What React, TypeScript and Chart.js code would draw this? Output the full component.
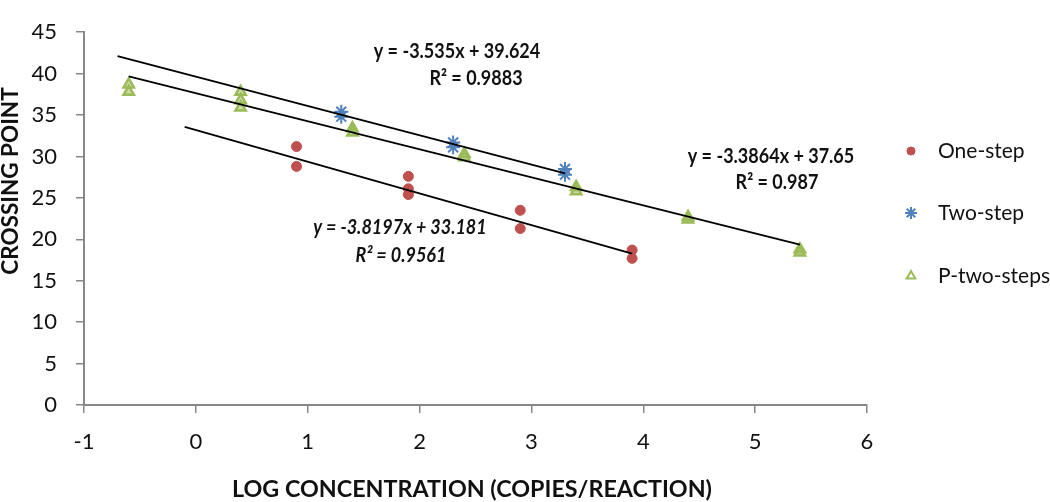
import React, { useEffect, useRef } from "react";
import { Chart, registerables } from "chart.js";
import { drawPoint } from "chart.js/helpers";

Chart.register(...registerables);

// ---- data ----
const oneStepX = [0.9, 0.9, 1.9, 1.9, 1.9, 2.9, 2.9, 3.9, 3.9];
const oneStepY = [31.2, 28.8, 27.6, 26.1, 25.4, 23.5, 21.3, 18.7, 17.7];

const twoStepX = [1.3, 1.3, 2.3, 2.3, 3.3, 3.3];
const twoStepY = [35.4, 34.8, 31.7, 31.1, 28.5, 27.8];

const pTwoX = [-0.6, -0.6, 0.4, 0.4, 0.4, 1.4, 1.4, 2.4, 2.4, 3.4, 3.4, 4.4, 4.4, 5.4, 5.4];
const pTwoY = [38.7, 37.8, 37.8, 36.8, 35.9, 33.4, 32.9, 30.3, 29.9, 26.3, 25.8, 22.7, 22.4, 18.8, 18.4];

const seriesNames = ["One-step", "Two-step", "P-two-steps"];

// trendlines (from the equations shown on the chart)
const trendSlopes = [-3.8197, -3.535, -3.3864];
const trendIntercepts = [33.181, 39.624, 37.65];
const trendStartX = [-0.1, -0.7, -0.6];
const trendEndX = [3.9, 3.3, 5.4];
const equationLabels = ["y = -3.8197x + 33.181", "y = -3.535x + 39.624", "y = -3.3864x + 37.65"];
const r2Labels = ["R² = 0.9561", "R² = 0.9883", "R² = 0.987"];

const xTickValues = [-1, 0, 1, 2, 3, 4, 5, 6];
const yTickValues = [0, 5, 10, 15, 20, 25, 30, 35, 40, 45];

const xTitle = "LOG CONCENTRATION (COPIES/REACTION)";
const yTitle = "CROSSING POINT";

const RED = "#C0504D";
const BLUE = "#4F81BD";
const GREEN = "#9BBB59";
const FONT = "Lato, 'Open Sans', sans-serif";

const toPoints = (xs: number[], ys: number[]) => xs.map((x, i) => ({ x, y: ys[i] }));
const trendPoints = (i: number) => [
  { x: trendStartX[i], y: trendSlopes[i] * trendStartX[i] + trendIntercepts[i] },
  { x: trendEndX[i], y: trendSlopes[i] * trendEndX[i] + trendIntercepts[i] },
];

const drawScaledText = (ctx: CanvasRenderingContext2D, text: string, x: number, y: number, sx: number) => {
  ctx.save();
  ctx.translate(x, y);
  ctx.scale(sx, 1);
  ctx.fillText(text, 0, 0);
  ctx.restore();
};

const overlayPlugin = {
  id: "overlay",
  afterDraw(chart: any) {
    const ctx: CanvasRenderingContext2D = chart.ctx;
    ctx.save();
    ctx.fillStyle = "#111";
    ctx.textAlign = "center";
    ctx.textBaseline = "middle";

    // equations
    const eqPos = [
      { x1: 400, y1: 228, x2: 401, y2: 256, italic: true },
      { x1: 457, y1: 52, x2: 476, y2: 79, italic: false },
      { x1: 771, y1: 157, x2: 777, y2: 183, italic: false },
    ];
    eqPos.forEach((p, i) => {
      ctx.font = `${p.italic ? "italic " : ""}bold 20px ${FONT}`;
      drawScaledText(ctx, equationLabels[i], p.x1, p.y1, 0.9);
      drawScaledText(ctx, r2Labels[i], p.x2, p.y2, 0.9);
    });

    // axis titles
    ctx.font = `bold 23.3px ${FONT}`;
    ctx.fillText(xTitle, 472, 489);
    ctx.save();
    ctx.translate(11, 181);
    ctx.rotate(-Math.PI / 2);
    ctx.font = `bold 22.5px ${FONT}`;
    ctx.fillText(yTitle, 0, 0);
    ctx.restore();

    // legend
    const legendY = [151, 213, 276];
    const styles = [
      { pointStyle: "circle", radius: 4, borderWidth: 1, fill: RED, stroke: RED },
      { pointStyle: "star", radius: 6, borderWidth: 2, fill: BLUE, stroke: BLUE },
      { pointStyle: "triangle", radius: 5, borderWidth: 2, fill: "#ffffff", stroke: GREEN },
    ];
    ctx.textAlign = "left";
    ctx.font = `21px ${FONT}`;
    seriesNames.forEach((name, i) => {
      const s = styles[i];
      ctx.fillStyle = s.fill;
      ctx.strokeStyle = s.stroke;
      ctx.lineWidth = s.borderWidth;
      drawPoint(ctx, { pointStyle: s.pointStyle as any, radius: s.radius, borderWidth: s.borderWidth, rotation: 0 }, 911, legendY[i]);
      ctx.fillStyle = "#111";
      ctx.fillText(name, 938, legendY[i]);
    });
    ctx.restore();
  },
};

export default function App() {
  const ref = useRef<HTMLCanvasElement | null>(null);

  useEffect(() => {
    if (!ref.current) return;
    const lineDs = (i: number) => ({
      type: "line" as const,
      label: "trend" + i,
      data: trendPoints(i),
      borderColor: "#000",
      borderWidth: 1.8,
      pointRadius: 0,
      fill: false,
      showLine: true,
    });
    const chart = new Chart(ref.current, {
      type: "scatter",
      data: {
        datasets: [
          lineDs(0),
          lineDs(1),
          lineDs(2),
          {
            label: seriesNames[0],
            data: toPoints(oneStepX, oneStepY),
            pointStyle: "circle",
            pointRadius: 5,
            backgroundColor: RED,
            borderColor: RED,
            borderWidth: 1,
          },
          {
            label: seriesNames[1],
            data: toPoints(twoStepX, twoStepY),
            pointStyle: "star",
            pointRadius: 7,
            backgroundColor: BLUE,
            borderColor: BLUE,
            borderWidth: 2,
          },
          {
            label: seriesNames[2],
            data: toPoints(pTwoX, pTwoY),
            pointStyle: "triangle",
            pointRadius: 6,
            backgroundColor: "rgba(155,187,89,0.55)",
            borderColor: GREEN,
            borderWidth: 2.5,
          },
        ] as any,
      },
      options: {
        responsive: false,
        animation: false,
        devicePixelRatio: 1,
        layout: { padding: { left: 0, right: 183, top: 10, bottom: 0 } },
        plugins: { legend: { display: false }, tooltip: { enabled: false } },
        scales: {
          x: {
            type: "linear",
            min: -1,
            max: 6,
            afterBuildTicks: (scale: any) => {
              scale.ticks = xTickValues.map((v) => ({ value: v }));
            },
            afterFit: (scale: any) => {
              scale.height = 97;
            },
            ticks: { color: "#111", font: { family: FONT, size: 22 }, padding: 16 },
            grid: { display: true, drawOnChartArea: false, drawTicks: true, tickLength: 8, color: "#878787", lineWidth: 1.5 },
            border: { display: true, color: "#878787", width: 2 },
          },
          y: {
            type: "linear",
            min: 0,
            max: 45,
            afterBuildTicks: (scale: any) => {
              scale.ticks = yTickValues.map((v) => ({ value: v }));
            },
            afterFit: (scale: any) => {
              scale.width = 84;
            },
            ticks: { color: "#111", font: { family: FONT, size: 22 }, padding: 19 },
            grid: { display: true, drawOnChartArea: false, drawTicks: true, tickLength: 8, color: "#878787", lineWidth: 1.5 },
            border: { display: true, color: "#878787", width: 2 },
          },
        },
      },
      plugins: [overlayPlugin],
    } as any);
    return () => chart.destroy();
  }, []);

  return (
    <div style={{ position: "fixed", left: 0, top: 0, width: 1050, height: 502, background: "#fff" }}>
      <canvas ref={ref} width={1050} height={502} style={{ width: 1050, height: 502, display: "block" }} />
    </div>
  );
}
